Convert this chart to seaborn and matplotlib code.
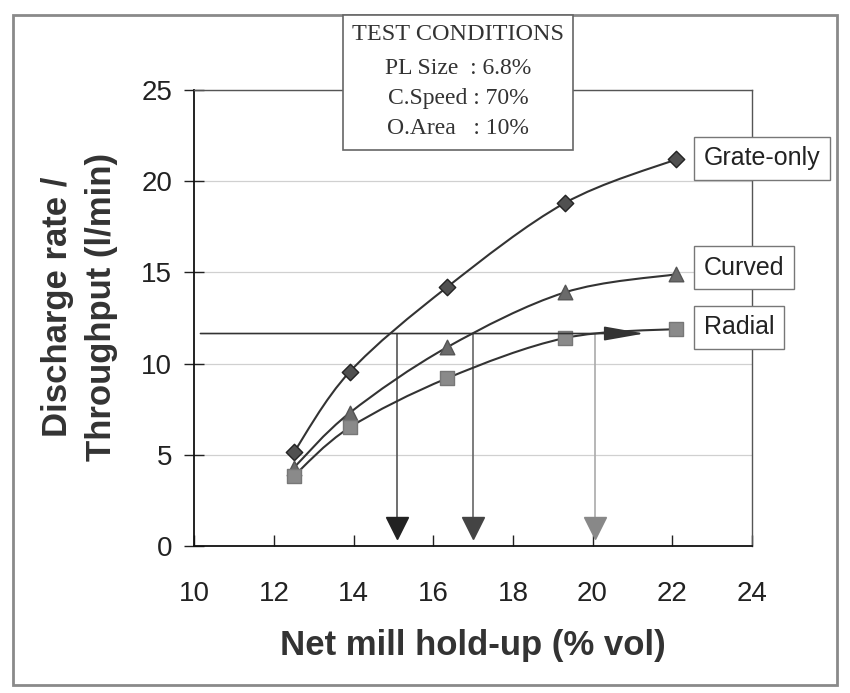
import numpy as np
import pandas as pd
import seaborn as sns
import matplotlib.pyplot as plt
from matplotlib.path import Path
from matplotlib.patches import PathPatch, Rectangle
from matplotlib.lines import Line2D

# data
holdup = [12.5, 13.9, 16.35, 19.3, 22.1]
grate_only = [5.15, 9.55, 14.2, 18.8, 21.2]
curved = [4.3, 7.3, 10.9, 13.9, 14.9]
radial = [3.85, 6.5, 9.2, 11.4, 11.9]
series_names = ['Grate-only', 'Curved', 'Radial']

target_rate = 11.65
target_holdup = [15.1, 17.0, 20.05]
radial_arrow_end = 21.3

conditions = ['PL Size  : 6.8%', 'C.Speed : 70%', 'O.Area   : 10%']


def smooth_path(x, y):
    # catmull-rom through the points, drawn as bezier segments
    pts = np.column_stack([x, y]).astype(float)
    p = np.vstack([pts[0], pts, pts[-1]])
    verts = [tuple(pts[0])]
    codes = [Path.MOVETO]
    for i in range(1, len(p) - 2):
        c1 = p[i] + (p[i + 1] - p[i - 1]) / 6
        c2 = p[i + 1] - (p[i + 2] - p[i]) / 6
        verts += [tuple(c1), tuple(c2), tuple(p[i + 1])]
        codes += [Path.CURVE4] * 3
    return Path(verts, codes)


sns.set_style('white')
plt.rcParams['font.family'] = ['Liberation Sans', 'DejaVu Sans']

fig = plt.figure(figsize=(8.5, 6.93), dpi=100)
ax = fig.add_axes([0.2288, 0.2121, 0.6556, 0.658])

df = pd.DataFrame({'holdup': holdup * 3,
                   'rate': grate_only + curved + radial,
                   'grate': np.repeat(series_names, len(holdup))})

styles = {'Grate-only': dict(marker='D', s=70, color='#505050', edgecolor='#222222'),
          'Curved': dict(marker='^', s=110, color='#6a6a6a', edgecolor='#555555'),
          'Radial': dict(marker='s', s=110, color='#8a8a8a', edgecolor='#777777')}

for name in series_names:
    sub = df[df['grate'] == name]
    ax.add_patch(PathPatch(smooth_path(sub['holdup'], sub['rate']), fill=False,
                           edgecolor='#333333', lw=1.5, zorder=3))
    sns.scatterplot(data=sub, x='holdup', y='rate', ax=ax, linewidth=1,
                    zorder=4, legend=False, **styles[name])

# target line and arrows
ax.annotate('', xy=(radial_arrow_end, target_rate), xytext=(10.15, target_rate),
            arrowprops=dict(arrowstyle='-|>,head_length=1.25,head_width=0.22',
                            mutation_scale=20, color='#333333', lw=1.2,
                            shrinkA=0, shrinkB=0), zorder=5)
arrow_cols = ['#222222', '#444444', '#888888']
line_cols = ['#555555', '#666666', '#aaaaaa']
for xv, ac, lc in zip(target_holdup, arrow_cols, line_cols):
    ax.plot([xv, xv], [target_rate, 1.0], color=lc, lw=1.2, zorder=2)
    ax.plot([xv], [1.0], marker='v', ms=16.5, color=ac, zorder=5)

ax.set_xlim(10, 24)
ax.set_ylim(0, 25)
ax.set_xticks(range(10, 25, 2))
ax.set_yticks(range(0, 26, 5))
ax.yaxis.grid(True, color='#d0d0d0', lw=0.9)
ax.set_axisbelow(True)
ax.tick_params(axis='x', direction='in', length=8, width=1, pad=25,
               labelsize=20, colors='#222222', bottom=True)
ax.tick_params(axis='y', direction='inout', length=14, width=1, pad=9,
               labelsize=20, colors='#222222', left=True)
for side in ['left', 'bottom']:
    ax.spines[side].set_color('#111111')
    ax.spines[side].set_linewidth(1.3)
for side in ['top', 'right']:
    ax.spines[side].set_color('#555555')
    ax.spines[side].set_linewidth(1.0)

ax.set_xlabel('Net mill hold-up (% vol)', fontsize=25, fontweight='bold',
              color='#333333', labelpad=16)
ax.set_ylabel('Discharge rate /\nThroughput (l/min)', fontsize=25,
              fontweight='bold', color='#333333', linespacing=1.4)
ax.yaxis.set_label_coords(-0.138, 0.525)

# series labels in boxes
label_y = [grate_only[-1] + 0.05, curved[-1] + 0.35, radial[-1] + 0.1]
for name, yv in zip(series_names, label_y):
    ax.text(22.8, yv, name, fontsize=18, ha='left', va='center', color='#222222',
            bbox=dict(boxstyle='square,pad=0.38', fc='white', ec='#777777', lw=1),
            zorder=6)

# outer frame
fig.patches.append(Rectangle((13 / 850, 1 - 685 / 693), 824 / 850, 670 / 693,
                             transform=fig.transFigure, fill=False,
                             ec='#8a8a8a', lw=2, zorder=0))

# test conditions box
fig.patches.append(Rectangle((343 / 850, 1 - 150 / 693), 230 / 850, 135 / 693,
                             transform=fig.transFigure, fc='white',
                             ec='#666666', lw=1.2, zorder=2))
serif = ['Liberation Serif', 'DejaVu Serif']
fig.text(458 / 850, 1 - 34 / 693, 'TEST CONDITIONS', family=serif, fontsize=17.5,
         ha='center', va='center', color='#333333', zorder=3)
fig.lines.append(Line2D([352 / 850, 567 / 850], [1 - 45 / 693, 1 - 45 / 693],
                        transform=fig.transFigure, color='#333333', lw=1.2))
for i, txt in enumerate(conditions):
    fig.text(458 / 850, 1 - (68 + 30.5 * i) / 693, txt, family=serif, fontsize=17,
             ha='center', va='center', color='#333333', zorder=3)

fig.savefig('out.png', dpi=100, facecolor='white')
